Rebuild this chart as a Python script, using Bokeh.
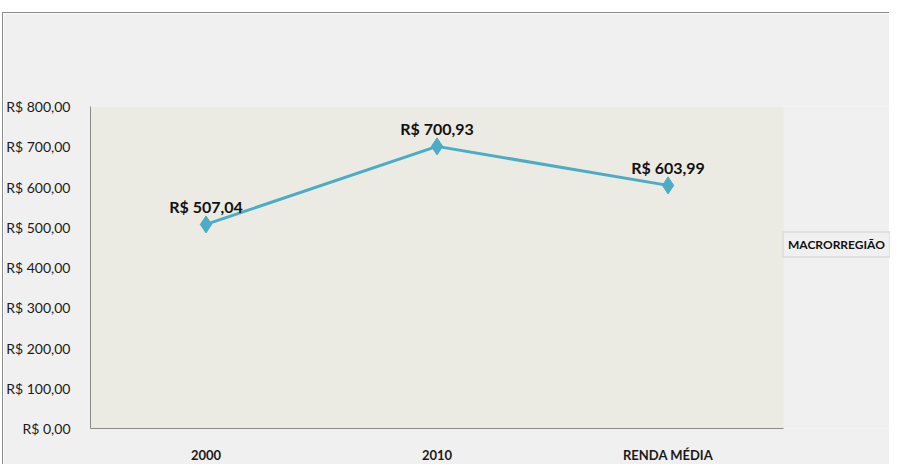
from bokeh.plotting import figure
from bokeh.models import Range1d, Legend, LegendItem, FixedTicker, BoxAnnotation
from bokeh.core.properties import value
from bokeh.embed import file_html
from bokeh.resources import INLINE

categories = ["2000", "2010", "RENDA MÉDIA"]
renda = [507.04, 700.93, 603.99]
renda_labels = ["R$ 507,04", "R$ 700,93", "R$ 603,99"]
y_ticks = [0, 100, 200, 300, 400, 500, 600, 700, 800]
y_tick_labels = ["R$ 0,00", "R$ 100,00", "R$ 200,00", "R$ 300,00", "R$ 400,00",
                 "R$ 500,00", "R$ 600,00", "R$ 700,00", "R$ 800,00"]
series_name = "MACRORREGIÃO"

FONT = "Lato"
n = len(categories)
xpos = [i + 0.5 for i in range(n)]  # category slot centres

W, H = 887, 452
LEFT, TOP, BOTTOM = 79, 93, 37
slot_px = 700 / n

p = figure(width=W, height=H, x_range=Range1d(0, (W - LEFT) / slot_px),
           y_range=Range1d(0, 800), output_backend="svg", toolbar_location=None,
           min_border_left=LEFT, min_border_right=0, min_border_top=TOP, min_border_bottom=BOTTOM,
           margin=(12, 0, 0, 2),
           styles={"border-left": "1px solid #8c8c8c", "border-top": "1px solid #8c8c8c"})

p.background_fill_color = "#F0F0F0"
p.border_fill_color = "#F0F0F0"
p.outline_line_color = None
p.xgrid.visible = False
p.ygrid.visible = False

# plot-area fill over the category slots only
p.add_layout(BoxAnnotation(left=0, right=n, bottom=0, top=800, fill_color="#EBEAE3",
                           fill_alpha=1.0, line_color=None, level="underlay"))

p.xaxis.ticker = FixedTicker(ticks=xpos)
p.xaxis.major_label_overrides = {x: c for x, c in zip(xpos, categories)}
p.xaxis.bounds = (0, n)
p.yaxis.ticker = FixedTicker(ticks=y_ticks)
p.yaxis.major_label_overrides = {t: l for t, l in zip(y_ticks, y_tick_labels)}
for ax in (p.xaxis, p.yaxis):
    ax.axis_line_color = "#8a8a8a"
    ax.axis_line_width = 1
    ax.major_tick_line_color = None
    ax.minor_tick_line_color = None
    ax.major_label_text_font = FONT
    ax.major_label_text_color = "#1a1a1a"
p.yaxis.major_label_text_font_size = "14px"
p.yaxis.major_label_standoff = 14
p.xaxis.major_label_text_font_size = "13px"
p.xaxis.major_label_text_font_style = "bold"
p.xaxis.major_label_standoff = 12

line_r = p.line(xpos, renda, line_color="#4BACC6", line_width=3)
p.scatter(xpos, renda, marker="diamond", size=17, fill_color="#4BACC6", line_color="#4BACC6")
p.text(xpos, renda, text=renda_labels, text_font=value(FONT), text_font_style="bold",
       text_font_size="16px", text_align="center", text_baseline="alphabetic",
       y_offset=-18, text_color="#111111")

legend = Legend(items=[LegendItem(label=series_name, renderers=[line_r])],
                location=(692, 170), glyph_width=0, glyph_height=15, label_standoff=0,
                padding=4, margin=0, spacing=0,
                label_text_font=FONT, label_text_font_style="bold", label_text_font_size="12px",
                label_text_color="#111111", background_fill_color="#F0F0F0",
                background_fill_alpha=1.0, border_line_color="#d0d0d0", border_line_width=2)
p.add_layout(legend, "center")

open("out.html", "w").write(file_html(p, INLINE))
